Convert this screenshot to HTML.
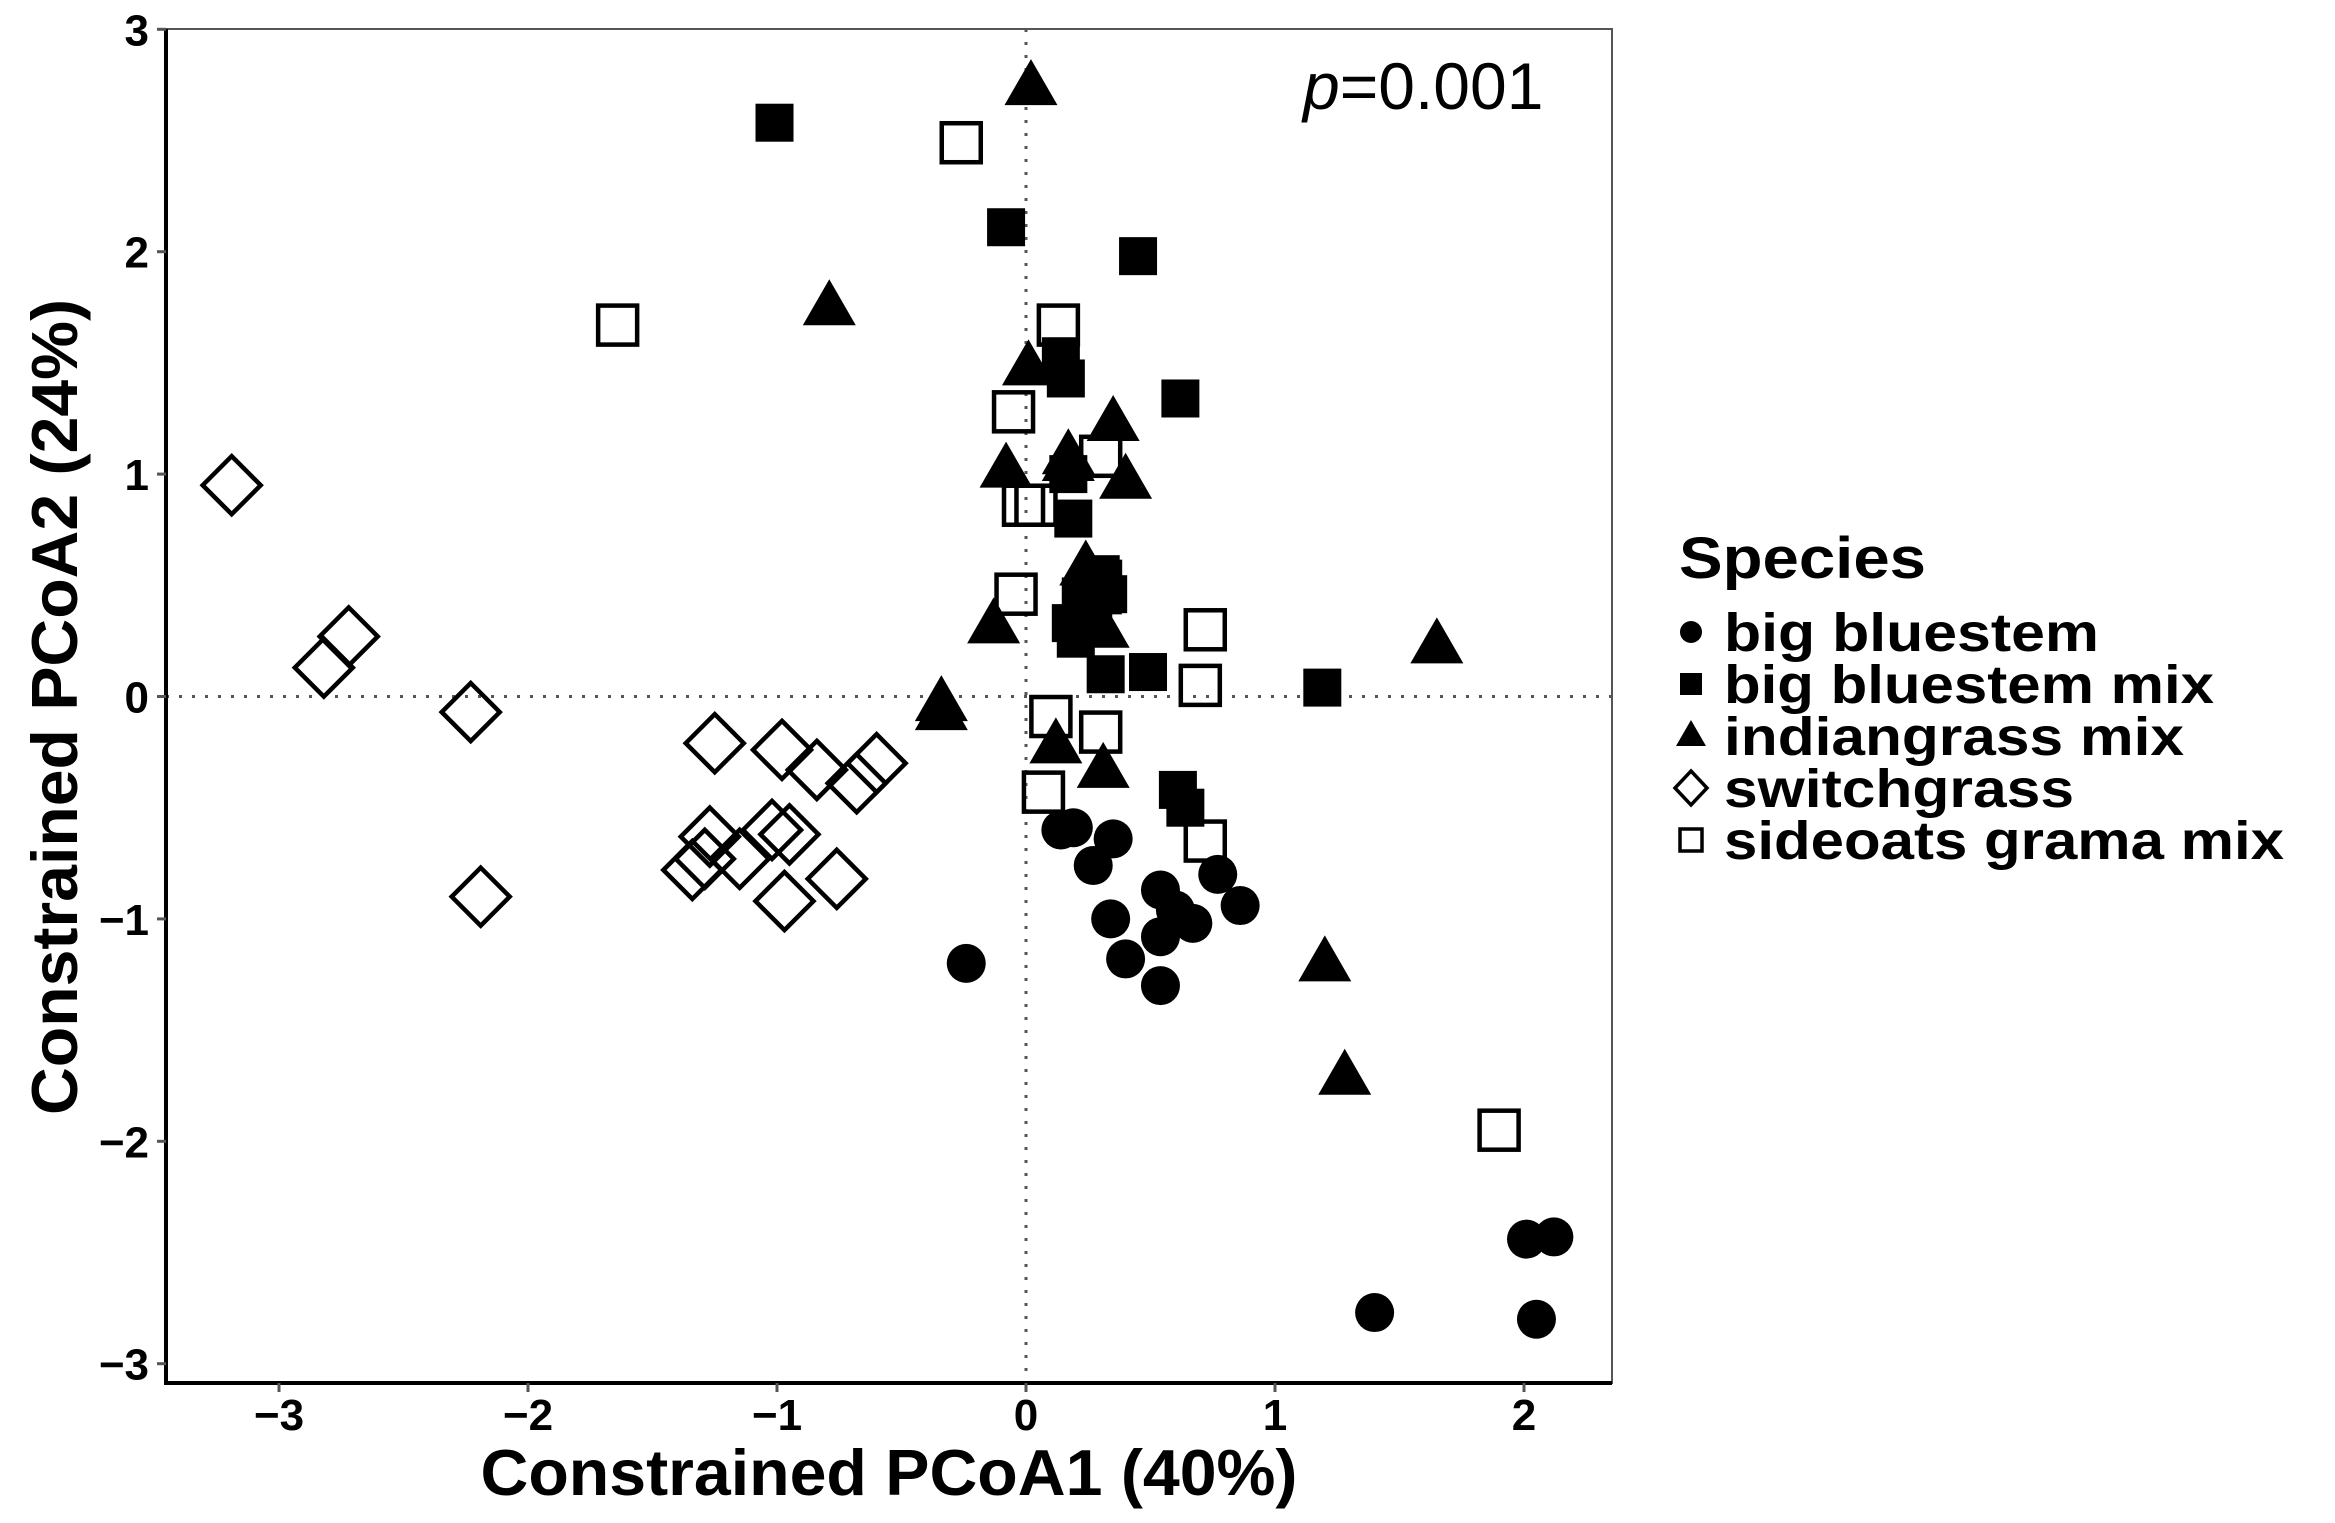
<!DOCTYPE html>
<html><head><meta charset="utf-8"><title>Constrained PCoA</title>
<style>
html,body{margin:0;padding:0;background:#fff;}
svg{display:block;font-family:"Liberation Sans",Arial,sans-serif;}
</style></head>
<body>
<svg id="chart" width="2335" height="1523" viewBox="0 0 2335 1523" xmlns="http://www.w3.org/2000/svg">
  <rect x="0" y="0" width="2335" height="1523" fill="#fff"/>
  <g id="plot"></g>
  <g id="axes"></g>
  <text x="1303" y="109" font-size="66" fill="#000"><tspan font-style="italic">p</tspan>=0.001</text>
  <text x="889" y="1495" font-size="65" font-weight="bold" text-anchor="middle" textLength="817" lengthAdjust="spacingAndGlyphs">Constrained PCoA1 (40%)</text>
  <text transform="translate(77,707) rotate(-90)" font-size="65" font-weight="bold" text-anchor="middle" textLength="816" lengthAdjust="spacingAndGlyphs">Constrained PCoA2 (24%)</text>
  <g id="legend">
    <text x="1679" y="578" font-size="58" font-weight="bold" textLength="247" lengthAdjust="spacingAndGlyphs">Species</text>
  </g>
</svg>
<script>
// data (x = PCoA1, y = PCoA2)
const bigBluestemX = [-0.24,0.14,0.19,0.35,0.27,0.54,0.34,0.60,0.67,0.77,0.86,0.54,0.40,0.54,1.40,2.01,2.12,2.05];
const bigBluestemY = [-1.20,-0.60,-0.59,-0.64,-0.76,-0.87,-1.00,-0.96,-1.02,-0.80,-0.94,-1.08,-1.18,-1.30,-2.77,-2.44,-2.43,-2.80];
const bbMixX = [-1.01,-0.08,0.45,0.14,0.16,0.62,0.17,0.19,0.31,0.33,0.18,0.20,0.27,0.32,0.49,1.19,0.61,0.64,0.30,0.22];
const bbMixY = [2.58,2.11,1.98,1.53,1.43,1.34,1.00,0.80,0.53,0.46,0.33,0.26,0.38,0.10,0.11,0.04,-0.42,-0.50,0.55,0.45];
const indianX = [0.02,-0.79,0.01,0.35,-0.08,0.17,0.40,0.24,0.28,-0.13,0.31,-0.34,-0.34,0.12,0.31,1.65,1.20,1.28,0.17];
const indianY = [2.74,1.75,1.48,1.23,1.02,1.08,0.97,0.58,0.45,0.32,0.30,-0.03,-0.07,-0.22,-0.33,0.23,-1.20,-1.71,1.05];
const switchX = [-3.19,-2.72,-2.82,-2.23,-2.19,-1.25,-0.98,-0.84,-0.68,-0.60,-1.27,-1.29,-1.34,-1.15,-1.02,-0.95,-0.76,-0.97];
const switchY = [0.95,0.27,0.13,-0.07,-0.90,-0.21,-0.24,-0.33,-0.39,-0.30,-0.63,-0.73,-0.78,-0.73,-0.60,-0.62,-0.82,-0.92];
const sideoatsX = [-0.26,-1.64,0.13,-0.05,0.30,-0.01,0.04,-0.04,0.72,0.70,0.10,0.30,0.07,0.72,1.90];
const sideoatsY = [2.49,1.67,1.67,1.28,1.08,0.86,0.86,0.46,0.30,0.05,-0.09,-0.16,-0.43,-0.65,-1.95];
const xTicks = [-3,-2,-1,0,1,2];
const yTicks = [-3,-2,-1,0,1,2,3];
const legendLabels = ["big bluestem","big bluestem mix","indiangrass mix","switchgrass","sideoats grama mix"];

const NS = "http://www.w3.org/2000/svg";
const L = 166, R = 1612, T = 29, B = 1383;
function sx(v){ return 1026 + 249*v; }
function sy(v){ return 696.5 - 222.4*v; }
function mk(tag, attrs, parent){
  const e = document.createElementNS(NS, tag);
  for (const k in attrs) e.setAttribute(k, attrs[k]);
  parent.appendChild(e); return e;
}
const plot = document.getElementById('plot');
const axes = document.getElementById('axes');

// panel border
let border = mk('rect',{x:L,y:T,width:R-L,height:B-T,fill:'none',stroke:'#555','stroke-width':2},plot);


// reference lines
let vl = mk('line',{x1:sx(0),x2:sx(0),y1:T,y2:B,stroke:'#555','stroke-width':3,'stroke-dasharray':'3 10'},plot);


let hl = mk('line',{x1:L,x2:R,y1:sy(0),y2:sy(0),stroke:'#555','stroke-width':3,'stroke-dasharray':'3 10'},plot);



function circle(x,y,g){ return mk('circle',{cx:x,cy:y,r:19.5,fill:'#000'},g); }
function fsquare(x,y,g){ return mk('rect',{x:x-19,y:y-19,width:38,height:38,fill:'#000'},g); }
function tri(x,y,g){ return mk('polygon',{points:`${x},${y-28} ${x+26.5},${y+18} ${x-26.5},${y+18}`,fill:'#000'},g); }
function diamond(x,y,g){ return mk('polygon',{points:`${x},${y-29} ${x+29},${y} ${x},${y+29} ${x-29},${y}`,fill:'none',stroke:'#000','stroke-width':4.5,'stroke-linejoin':'miter'},g); }
function osquare(x,y,g){ return mk('rect',{x:x-19.5,y:y-19.5,width:39,height:39,fill:'none',stroke:'#000','stroke-width':4.5},g); }

const series = [
  {xs:bigBluestemX, ys:bigBluestemY, f:circle, name:'big-bluestem'},
  {xs:bbMixX, ys:bbMixY, f:fsquare, name:'big-bluestem-mix'},
  {xs:indianX, ys:indianY, f:tri, name:'indiangrass-mix'},
  {xs:switchX, ys:switchY, f:diamond, name:'switchgrass'},
  {xs:sideoatsX, ys:sideoatsY, f:osquare, name:'sideoats-grama-mix'}
];
series.forEach(s=>{
  const g = mk('g',{},plot);
  
  
  s.xs.forEach((v,i)=>{
    const el = s.f(sx(v), sy(s.ys[i]), g);
    
    
  });
});

// axis lines
let xa = mk('line',{x1:L,x2:R,y1:B,y2:B,stroke:'#000','stroke-width':4},axes);


let ya = mk('line',{x1:L,x2:L,y1:T,y2:B+2,stroke:'#000','stroke-width':4},axes);



xTicks.forEach(t=>{
  const tk = mk('line',{x1:sx(t),x2:sx(t),y1:B,y2:B+9,stroke:'#555','stroke-width':3},axes);
  
  
  const lb = mk('text',{x:sx(t),y:1430,'font-size':44,'font-weight':'bold','text-anchor':'middle'},axes);
  lb.textContent = t<0 ? '\u2212'+Math.abs(t) : String(t);
  
  
});
yTicks.forEach(t=>{
  const tk = mk('line',{x1:L-9,x2:L,y1:sy(t),y2:sy(t),stroke:'#555','stroke-width':3},axes);
  
  
  const lb = mk('text',{x:149,y:sy(t)+16,'font-size':44,'font-weight':'bold','text-anchor':'end'},axes);
  lb.textContent = t<0 ? '\u2212'+Math.abs(t) : String(t);
  
  
});

// legend
const leg = document.getElementById('legend');
const legFns = [
  (x,y,g)=>mk('circle',{cx:x,cy:y,r:11,fill:'#000'},g),
  (x,y,g)=>mk('rect',{x:x-11,y:y-11,width:22,height:22,fill:'#000'},g),
  (x,y,g)=>mk('polygon',{points:`${x},${y-16} ${x+15},${y+10} ${x-15},${y+10}`,fill:'#000'},g),
  (x,y,g)=>mk('polygon',{points:`${x},${y-17} ${x+16},${y} ${x},${y+17} ${x-16},${y}`,fill:'none',stroke:'#000','stroke-width':3.5},g),
  (x,y,g)=>mk('rect',{x:x-11,y:y-11,width:22,height:22,fill:'none',stroke:'#000','stroke-width':3.5},g)
];
const legWidths = [375,490,460,350,560];
legendLabels.forEach((lab,i)=>{
  const cy = 632 + 52*i;
  const g = mk('g',{},leg);
  
  
  const sym = legFns[i](1691, cy, g);
  
  
  const tx = mk('text',{x:1724,y:cy+19,'font-size':54,'font-weight':'bold',textLength:legWidths[i],lengthAdjust:'spacingAndGlyphs'},g);
  tx.textContent = lab;
  
  
});
</script>
</body></html>
